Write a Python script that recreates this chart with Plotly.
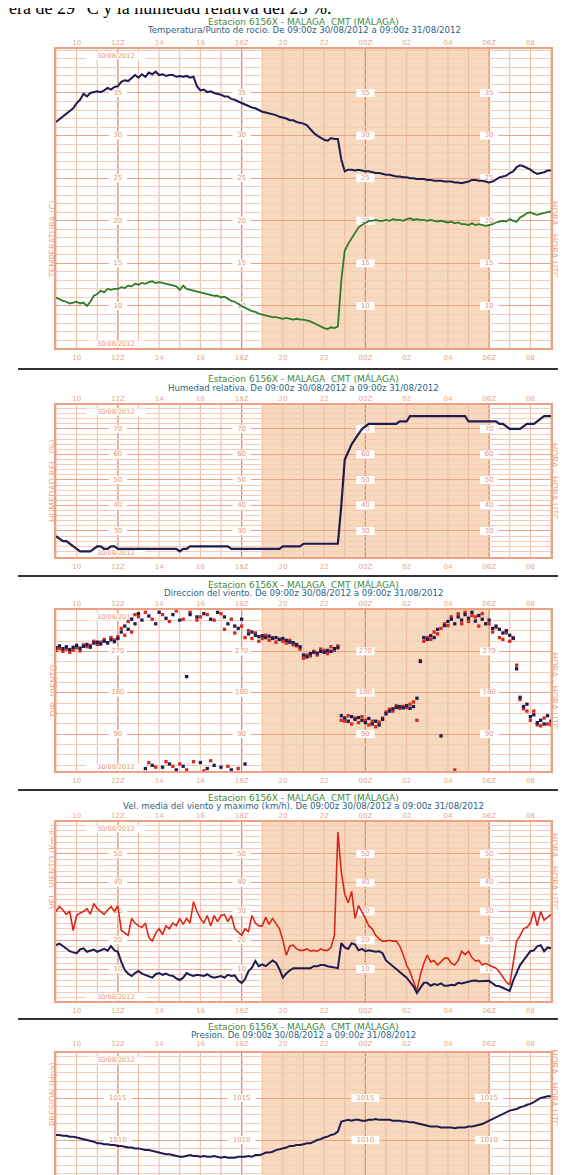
import plotly.graph_objects as go

W, H = 566, 1175
XL, XR = 48, 543

# ---------------- data (10-minute observations, 09:00z 30/08 -> 09:00z 31/08) -------------
HOURS = [i / 6 for i in range(145)]          # hours after 09:00z
TICK_HOURS = [1, 3, 5, 7, 9, 11, 13, 15, 17, 19, 21, 23]
TICK_TEXT = ["10", "12Z", "14", "16", "18Z", "20", "22", "00Z", "02", "04", "06Z", "08"]
GRID_HOURS = list(range(0, 25))
MAIN_HOURS = [3, 9, 15, 21]
NIGHT = [10, 21]
DATE_TEXT = "30/08/2012"

temperature = [
    31.6, 31.9, 32.3, 32.6, 32.9, 33.2,
    33.8, 34.2, 34.9, 34.6, 35.0, 35.1,
    35.2, 35.1, 35.3, 35.6, 35.4, 35.7,
    35.8, 36.3, 36.5, 36.4, 36.8, 37.1,
    36.8, 37.2, 36.9, 37.4, 37.2, 37.5,
    37.1, 37.2, 37.0, 37.1, 37.1, 36.9,
    37.0, 36.9, 37.0, 36.8, 36.9, 35.8,
    35.3, 35.4, 35.1, 35.2, 35.0, 34.9,
    34.8, 34.6, 34.6, 34.3, 34.2, 34.0,
    33.8, 33.7, 33.5, 33.3, 33.2, 33.0,
    32.8, 32.7, 32.6, 32.5, 32.4, 32.2,
    32.1, 32.0, 31.8, 31.8, 31.6, 31.5,
    31.4, 31.2, 30.7, 30.3, 30.0, 29.7,
    29.5, 29.4, 29.7, 29.6, 29.6, 27.2,
    25.8, 26.0, 26.0, 25.9, 26.0, 25.9,
    25.8, 25.8, 25.7, 25.6, 25.6, 25.5,
    25.4, 25.4, 25.3, 25.2, 25.2, 25.1,
    25.1, 25.0, 25.0, 24.9, 24.9, 24.9,
    24.8, 24.8, 24.7, 24.7, 24.7, 24.6,
    24.6, 24.6, 24.5, 24.5, 24.4, 24.5,
    24.6, 24.8, 24.8, 24.7, 24.7, 24.6,
    24.5, 24.6, 24.9, 25.1, 25.2, 25.3,
    25.6, 25.8, 26.3, 26.5, 26.4, 26.2,
    26.0, 25.7, 25.5, 25.6, 25.7, 25.9,
    25.9,
]
dew_point = [
    11.0, 10.8, 10.6, 10.5, 10.3, 10.4,
    10.5, 10.3, 10.4, 10.0, 10.5, 11.2,
    11.4, 11.8, 11.6, 12.0, 11.9, 12.0,
    12.0, 12.2, 12.1, 12.4, 12.3, 12.6,
    12.5, 12.7, 12.6, 12.8, 12.9, 12.7,
    12.8, 12.7, 12.6, 12.5, 12.4, 12.3,
    11.9, 12.4, 12.0, 11.9, 11.8, 11.7,
    11.6, 11.5, 11.4, 11.3, 11.2, 11.2,
    11.0, 11.1, 10.8, 10.6, 10.5, 10.2,
    10.0, 9.8, 9.6, 9.4, 9.3, 9.1,
    9.0, 8.9, 8.8, 8.7, 8.7, 8.6,
    8.5, 8.6, 8.5, 8.4, 8.5, 8.4,
    8.4, 8.3, 8.2, 8.0, 7.8, 7.6,
    7.4, 7.3, 7.5, 7.4, 7.6, 13.0,
    16.5, 17.3, 17.9, 18.6, 19.2, 19.5,
    19.8, 20.0, 20.0, 20.1, 20.0, 20.0,
    20.1, 20.0, 20.2, 20.1, 20.1, 20.0,
    20.2, 20.3, 20.1, 20.2, 20.1, 20.1,
    20.0, 20.1, 20.0, 19.9, 20.0, 19.9,
    19.8, 19.9, 19.7, 19.8, 19.6, 19.6,
    19.5, 19.7, 19.5, 19.6, 19.5, 19.4,
    19.5, 19.6, 19.8, 19.9, 20.0, 19.9,
    20.2, 20.0, 19.9, 20.4, 20.6, 20.9,
    21.0, 20.8, 20.7, 20.8, 20.9, 21.0,
    21.1,
]
humidity = [
    28, 27, 26, 26, 25, 24,
    23, 22, 22, 22, 22, 23,
    24, 24, 23, 23, 24, 24,
    23, 23, 23, 23, 23, 23,
    23, 23, 23, 23, 23, 23,
    23, 23, 23, 23, 23, 23,
    22, 23, 23, 24, 24, 24,
    24, 24, 24, 24, 24, 24,
    24, 24, 24, 23, 23, 23,
    23, 23, 23, 23, 23, 23,
    23, 23, 23, 23, 23, 23,
    24, 24, 24, 24, 24, 24,
    25, 25, 25, 25, 25, 25,
    25, 25, 25, 25, 25, 40,
    58, 61, 64, 66, 68, 70,
    71, 72, 72, 72, 72, 72,
    72, 72, 72, 72, 73, 73,
    73, 75, 75, 75, 75, 75,
    75, 75, 75, 75, 75, 75,
    75, 75, 75, 75, 75, 75,
    73, 73, 73, 73, 73, 73,
    73, 73, 73, 72, 72, 71,
    70, 70, 70, 70, 71, 72,
    72, 72, 73, 74, 75, 75,
    75,
]
wind_dir_mean = [
    278, 282, 276, 280, 274, 279,
    283, 277, 281, 285, 279, 288,
    290, 286, 292, 289, 295, 291,
    298, 312, 325, 318, 340, 330,
    352, 338, 15, 347, 22, 330,
    355, 18, 342, 25, 350, 12,
    338, 20, 215, 350, 8, 345,
    28, 352, 15, 340, 22, 355,
    18, 345, 330, 12, 325, 320,
    340, 25, 308, 312, 305, 302,
    304, 300, 303, 298, 300, 296,
    298, 294, 290, 289, 285, 280,
    262, 258, 265, 268, 266, 270,
    268, 272, 270, 276, 278, 130,
    125, 118, 128, 122, 126, 120,
    115, 124, 112, 118, 110, 122,
    134, 140, 145, 148, 150, 147,
    152, 146, 150, 168, 248, 300,
    296, 304, 300, 318, 86, 326,
    335, 340, 330, 345, 338, 350,
    342, 355, 336, 348, 340, 330,
    338, 320, 325, 318, 310, 315,
    305, 298, 232, 170, 150, 155,
    128, 132, 115, 120, 112, 130,
    118,
]
wind_dir_gust = [
    272, 276, 270, 275, 268, 273,
    278, 271, 284, 280, 283, 292,
    285, 290, 296, 288, 300, 295,
    302, 320, 305, 335, 312, 350,
    345, 5, 355, 28, 340, 18,
    8, 350, 30, 335, 20, 358,
    25, 340, 12, 355, 30, 338,
    345, 10, 350, 32, 338, 5,
    352, 318, 20, 340, 310, 15,
    325, 300, 315, 298, 310, 292,
    298, 305, 294, 300, 290, 296,
    292, 288, 294, 284, 282, 275,
    255, 262, 260, 270, 262, 275,
    272, 265, 280, 272, 282, 120,
    118, 130, 112, 125, 115, 128,
    120, 110, 118, 106, 116, 125,
    138, 144, 140, 152, 146, 150,
    148, 155, 160, 120, 250, 292,
    300, 296, 312, 308, 320, 330,
    326, 345, 12, 352, 330, 355,
    335, 348, 345, 325, 352, 8,
    330, 312, 322, 300, 296, 310,
    292, 300, 240, 165, 145, 140,
    120, 140, 110, 108, 125, 112,
    110,
]
wind_mean = [
    18.3, 18.8, 18.0, 17.0, 16.2, 15.8,
    15.5, 16.8, 17.2, 16.0, 16.5, 16.8,
    16.0, 16.5, 17.0, 16.4, 18.0, 16.5,
    16.0, 12.5, 9.7, 8.4, 7.6, 8.6,
    9.3, 8.4, 8.0, 7.5, 7.0, 8.2,
    8.6, 8.0, 8.4, 7.8, 7.6, 6.8,
    6.2, 7.0, 8.6, 8.0, 7.6, 8.0,
    7.8, 7.6, 8.2, 7.4, 7.0, 7.2,
    7.6, 7.0, 8.0, 7.6, 7.8, 6.0,
    5.2, 6.5, 9.3, 10.5, 12.8, 11.0,
    11.6, 11.0, 12.0, 13.0, 12.2, 10.0,
    7.0, 8.5, 9.5, 10.3, 10.3, 10.3,
    10.3, 10.5, 10.3, 11.0, 11.0, 11.4,
    11.4, 11.0, 10.8, 10.6, 10.3, 19.0,
    17.5, 17.0, 19.0, 18.5, 16.5, 17.0,
    16.2, 16.5, 16.2, 16.0, 16.2, 15.5,
    13.0, 12.0, 11.0, 10.3, 9.0, 8.0,
    7.0, 5.5, 4.0, 1.7, 3.5, 5.2,
    5.2, 4.2, 4.8, 4.5, 5.0, 4.2,
    4.2, 4.5, 4.4, 5.2, 5.0, 5.4,
    5.6, 5.9, 6.0, 5.8, 5.9, 5.9,
    5.9, 5.0, 4.2, 4.0, 3.5, 2.8,
    2.4, 6.0, 9.0, 11.4, 13.0, 14.5,
    16.2, 16.5, 17.9, 18.3, 16.2, 17.5,
    17.2,
]
wind_gust = [
    30.0, 31.7, 30.5, 29.0, 30.0, 23.4,
    28.6, 29.5, 30.0, 31.0, 29.0, 32.8,
    31.0, 30.0, 29.0, 30.5, 31.7, 30.0,
    32.0, 23.4, 22.5, 21.7, 27.6, 26.0,
    25.0, 24.5, 26.0, 21.0, 19.7, 22.5,
    24.0, 22.0, 25.0, 24.0, 26.0, 25.0,
    27.6, 25.5, 27.6, 26.0, 33.4, 30.0,
    27.6, 26.0, 28.6, 25.0, 28.6, 26.5,
    28.6, 29.0, 26.5, 28.6, 24.0, 23.0,
    21.7, 24.0, 23.0, 28.6, 26.0, 25.0,
    25.0, 28.0, 25.5, 27.6, 26.0, 24.0,
    20.0, 14.8, 18.0, 18.3, 17.0, 16.5,
    16.5, 17.0, 16.2, 16.5, 16.2, 17.0,
    16.5, 16.5, 17.5, 21.7, 57.6, 43.8,
    36.0, 33.0, 37.0, 27.6, 32.0, 30.0,
    27.6, 25.0, 24.0, 21.7, 20.5, 19.7,
    19.7, 20.0, 19.7, 19.7, 18.0, 15.0,
    11.4, 9.0, 6.0, 2.4, 8.0, 12.0,
    14.8, 12.5, 13.0, 11.4, 12.5, 13.8,
    13.8, 12.0, 11.4, 13.0, 16.2, 15.0,
    16.2, 14.0, 12.8, 13.0, 11.4, 12.0,
    11.4, 10.8, 10.3, 9.0, 7.0, 5.5,
    4.5, 12.0, 19.7, 21.5, 24.0, 24.5,
    26.0, 30.0, 25.0, 30.0, 27.0, 28.0,
    29.0,
]
pressure = [
    1010.6, 1010.6, 1010.5, 1010.5, 1010.4, 1010.4,
    1010.3, 1010.2, 1010.1, 1010.0, 1009.9, 1009.8,
    1009.6, 1009.6, 1009.5, 1009.5, 1009.4, 1009.4,
    1009.3, 1009.3, 1009.2, 1009.1, 1009.1, 1009.0,
    1009.0, 1008.9, 1008.8, 1008.8, 1008.7, 1008.6,
    1008.5, 1008.4, 1008.3, 1008.3, 1008.2, 1008.1,
    1008.0, 1008.0, 1008.1, 1008.2, 1008.1, 1008.1,
    1008.0, 1008.1, 1008.0, 1008.0, 1008.1, 1008.0,
    1007.9, 1008.0, 1007.9, 1007.9, 1007.9, 1008.0,
    1008.0, 1008.0, 1008.1, 1008.0, 1008.2, 1008.2,
    1008.3, 1008.5, 1008.5, 1008.6, 1008.8, 1008.9,
    1009.0, 1009.1, 1009.3, 1009.3, 1009.4, 1009.4,
    1009.5, 1009.6, 1009.6, 1009.8, 1010.0, 1010.1,
    1010.3, 1010.4, 1010.6, 1010.7, 1011.0, 1012.2,
    1012.3, 1012.4, 1012.3, 1012.4, 1012.4, 1012.3,
    1012.3, 1012.4, 1012.4, 1012.5, 1012.4, 1012.4,
    1012.4, 1012.4, 1012.3, 1012.3, 1012.3, 1012.2,
    1012.2, 1012.1, 1012.1, 1012.0, 1011.9, 1011.8,
    1011.7, 1011.6, 1011.6, 1011.6, 1011.5, 1011.5,
    1011.5, 1011.5, 1011.4, 1011.5, 1011.5, 1011.5,
    1011.6, 1011.6, 1011.7, 1011.8, 1011.9, 1012.1,
    1012.3, 1012.5, 1012.7, 1012.9, 1013.1, 1013.3,
    1013.5, 1013.6, 1013.7, 1013.9, 1014.0, 1014.2,
    1014.3, 1014.5, 1014.8, 1015.0, 1015.1, 1015.2,
    1015.2,
]

# ---------------- styling ----------------
NAVY = "#1e1c50"
GREEN = "#2c7d2c"
RED = "#d8281a"
NIGHT_BG = "#f7d9bd"
VGRID = "#f2b7a0"
HMINOR = "#f6cbb8"
HMAJOR = "#eca488"
SIXH = "#e2896a"
BORDER = "#eda083"
TICKC = "#e8a98c"
LABC = "#e59876"
FONT = "DejaVu Sans"

STATION = "Estacion 6156X - MALAGA  CMT (MÁLAGA)"
PERIOD = "De 09:00z 30/08/2012 a 09:00z 31/08/2012"

PANELS = [
    dict(top=41, bot=340, t1=13, t2=22, rng=[5.07, 40.16], minor=1, major=[10, 15, 20, 25, 30, 35],
         ltitle="TEMPERATURA (C)", sub="Temperatura/Punto de rocio. " + PERIOD),
    dict(top=397, bot=549, t1=371, t2=380, rng=[19.8, 79.4], minor=2, major=[30, 40, 50, 60, 70],
         ltitle="HUMEDAD REL. (%)", sub="Humedad relativa. " + PERIOD),
    dict(top=602, bot=763, t1=576, t2=585, rng=[9.7, 360], minor=22.5, major=[90, 180, 270],
         ltitle="DIR. VIENTO", sub="Direccion del viento. " + PERIOD),
    dict(top=814, bot=993, t1=789, t2=798, rng=[-1.1, 61.1], minor=2, major=[10, 20, 30, 40, 50],
         ltitle="VEL. VIENTO (Km/h)", sub="Vel. media del viento y maximo (km/h). " + PERIOD),
    dict(top=1045, bot=1175, t1=1018, t2=1027, rng=[1004.88, 1020.36], minor=1, major=[1010, 1015],
         ltitle="PRESION (Hpa)", sub="Presion. " + PERIOD),
]
SEPARATORS = [361, 568, 782, 1011]

fig = go.Figure()


def ax(name, i):
    return name if i == 1 else f"{name}{i}"


def ref(letter, i):
    return letter if i == 1 else f"{letter}{i}"


# ---------------- in-grid labels (white boxes under the data lines) ----------------
for i, p in enumerate(PANELS, start=1):
    lx = [h for h in MAIN_HOURS for v in p["major"]]
    ly = [v for h in MAIN_HOURS for v in p["major"]]
    fig.add_trace(go.Scatter(
        x=lx, y=ly, mode="markers+text", text=[str(v) for v in ly], textposition="middle center",
        textfont=dict(family=FONT, size=7, color=LABC),
        marker=dict(symbol="line-ew", size=13 if max(p["major"]) < 1000 else 20,
                    line=dict(width=8, color="white")),
        xaxis=ref("x", i), yaxis=ref("y", i), showlegend=False, hoverinfo="skip"))
    lo, hi = p["rng"]
    hpx = p["bot"] - p["top"]
    dy = [hi - (hi - lo) * 7 / hpx]
    if i < 5:
        dy.append(lo + (hi - lo) * 4 / hpx)
    fig.add_trace(go.Scatter(
        x=[2.9] * len(dy), y=dy, mode="markers+text", text=[DATE_TEXT] * len(dy),
        textposition="middle center", textfont=dict(family=FONT, size=6.5, color=LABC),
        marker=dict(symbol="line-ew", size=42, line=dict(width=7, color="white")),
        xaxis=ref("x", i), yaxis=ref("y", i), showlegend=False, hoverinfo="skip",
        cliponaxis=False))

# ---------------- data traces ----------------
line_series = [
    (1, temperature, NAVY, 2.0),
    (1, dew_point, GREEN, 1.8),
    (2, humidity, NAVY, 2.2),
    (4, wind_gust, RED, 1.6),
    (4, wind_mean, NAVY, 2.0),
    (5, pressure, NAVY, 2.0),
]
for i, vals, col, wdt in line_series:
    fig.add_trace(go.Scatter(x=HOURS, y=vals, mode="lines", line=dict(color=col, width=wdt),
                             xaxis=ref("x", i), yaxis=ref("y", i), showlegend=False, hoverinfo="skip"))

for vals, col in [(wind_dir_gust, RED), (wind_dir_mean, NAVY)]:
    fig.add_trace(go.Scatter(x=HOURS, y=vals, mode="markers",
                             marker=dict(symbol="square", size=3.3, color=col, line=dict(width=0)),
                             xaxis="x3", yaxis="y3", showlegend=False, hoverinfo="skip"))

# invisible traces so that the top (overlay) hour axes are drawn
for i in range(1, 6):
    fig.add_trace(go.Scatter(x=[0, 24], y=PANELS[i - 1]["rng"], mode="markers", marker=dict(opacity=0),
                             xaxis=f"x{i + 5}", yaxis=ref("y", i), showlegend=False, hoverinfo="skip"))

# ---------------- axes, shapes, annotations ----------------
layout = dict(width=W, height=H, margin=dict(l=0, r=0, t=0, b=0),
              paper_bgcolor="white", plot_bgcolor="white",
              font=dict(family=FONT, size=7, color=TICKC), showlegend=False)
shapes = []
annotations = []

for i, p in enumerate(PANELS, start=1):
    y0 = max(0.0, 1 - p["bot"] / H)
    y1 = 1 - p["top"] / H
    xr, yr = ref("x", i), ref("y", i)
    last = (i == 5)
    layout[ax("xaxis", i)] = dict(
        domain=[XL / W, XR / W], range=[0, 24], anchor=yr,
        tickmode="array", tickvals=TICK_HOURS, ticktext=TICK_TEXT,
        showticklabels=not last, ticks="", ticklabelstandoff=2,
        tickfont=dict(family=FONT, size=7, color=TICKC),
        showgrid=False,
        showline=not last, linecolor=BORDER, linewidth=1.5, mirror=True,
        zeroline=False, fixedrange=True)
    layout[f"xaxis{i + 5}"] = dict(
        overlaying=xr, anchor=yr, side="top", range=[0, 24],
        tickmode="array", tickvals=TICK_HOURS, ticktext=TICK_TEXT,
        ticks="", ticklabelstandoff=2, tickfont=dict(family=FONT, size=7, color=TICKC),
        showgrid=False, zeroline=False, showline=last, linecolor=BORDER, linewidth=1.5,
        fixedrange=True)
    layout[ax("yaxis", i)] = dict(
        domain=[y0, y1], range=p["rng"], anchor=xr,
        tickmode="array", tickvals=p["major"], showticklabels=False, ticks="",
        showgrid=True, gridcolor=HMAJOR, gridwidth=1,
        minor=dict(tickmode="linear", tick0=0, dtick=p["minor"], showgrid=True,
                   gridcolor=HMINOR, gridwidth=1),
        showline=True, linecolor=BORDER, linewidth=1.5, mirror=True,
        zeroline=False, fixedrange=True)

    # night (sunset -> sunrise) shading
    shapes.append(dict(type="rect", xref=xr, yref=f"{yr} domain", x0=NIGHT[0], x1=NIGHT[1], y0=0, y1=1,
                       fillcolor=NIGHT_BG, line=dict(width=0), layer="below"))
    # hourly vertical grid, synoptic hours darker
    for h in GRID_HOURS:
        main = h in MAIN_HOURS
        shapes.append(dict(type="line", xref=xr, yref=f"{yr} domain", x0=h, x1=h, y0=0, y1=1,
                           line=dict(color=SIXH if main else VGRID, width=1.3 if main else 1),
                           layer="below"))

    # titles
    xc = (XL + XR) / 2 / W
    annotations.append(dict(x=xc, y=1 - p["t1"] / H, xref="paper", yref="paper", text=STATION,
                            showarrow=False, xanchor="center", yanchor="middle",
                            font=dict(family=FONT, size=9, color="#3f8a3a")))
    annotations.append(dict(x=xc, y=1 - p["t2"] / H, xref="paper", yref="paper", text=p["sub"],
                            showarrow=False, xanchor="center", yanchor="middle",
                            font=dict(family=FONT, size=8.6, color="#2c5f86")))
    # side titles
    ym = 1 - (p["top"] + (p["bot"] if not last else 1195)) / 2 / H
    annotations.append(dict(x=38 / W, y=ym, xref="paper", yref="paper", text=p["ltitle"], textangle=-90,
                            showarrow=False, font=dict(family=FONT, size=8.5, color=TICKC)))
    annotations.append(dict(x=553 / W, y=ym, xref="paper", yref="paper", text="HORA - HORA UTC",
                            textangle=90, showarrow=False, font=dict(family=FONT, size=8.5, color=TICKC)))

for s in SEPARATORS:
    shapes.append(dict(type="line", xref="paper", yref="paper", x0=10 / W, x1=1, y0=1 - s / H, y1=1 - s / H,
                       line=dict(color="#333333", width=2)))

# article text cut by the top of the image
annotations.append(dict(x=0, y=1 - 11 / H, xref="paper", yref="paper", xanchor="left", yanchor="bottom",
                        text="era de 29 °C y la humedad relativa del 25 %.", showarrow=False, borderpad=0,
                        font=dict(family="Liberation Serif", size=18, color="black")))

layout["shapes"] = shapes
layout["annotations"] = annotations
fig.update_layout(**layout)

fig.write_html("out.html")
